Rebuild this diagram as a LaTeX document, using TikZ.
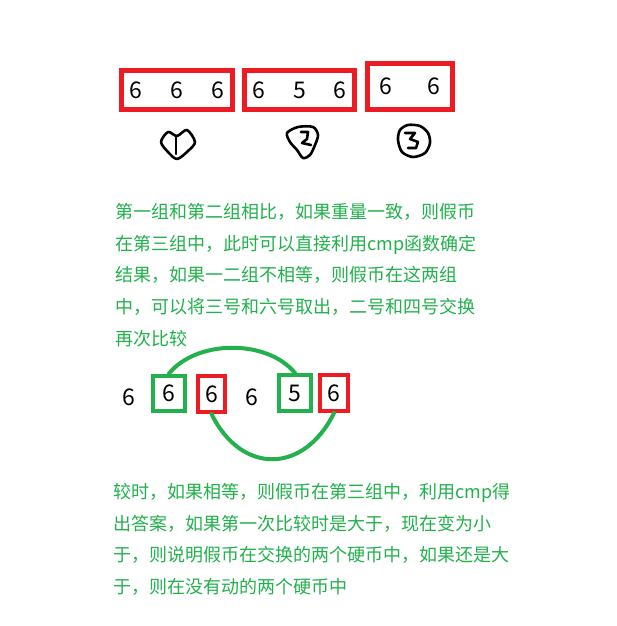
\documentclass[tikz,border=0pt]{standalone}
\usepackage{fontspec}
\setmainfont{Noto Sans CJK SC}
\definecolor{paintred}{HTML}{ED1C24}
\definecolor{paintgreen}{HTML}{22B14C}
\tikzset{
  bigbox/.style={draw=paintred, line width=5pt, inner sep=0pt, font=\fontsize{23}{26}\selectfont},
  redbox/.style={draw=paintred, line width=4pt, inner sep=0pt, minimum width=28pt, minimum height=36pt},
  greenbox/.style={draw=paintgreen, line width=4pt, inner sep=0pt, minimum width=32pt, minimum height=35pt},
  coin/.style={inner sep=0pt, font=\fontsize{23}{26}\selectfont},
  note/.style={anchor=north west, inner sep=0pt, align=left, text=paintgreen, font=\fontsize{18}{31.7}\selectfont},
  scribble/.style={line width=2.6pt, line join=round, line cap=round},
  swap/.style={draw=paintgreen, line width=4pt, line cap=round}
}
\begin{document}
\begin{tikzpicture}[x=1pt, y=-1pt]
  \useasboundingbox[fill=white] (0,0) rectangle (617,626);
  % the three groups
  \node[bigbox, minimum width=111pt, minimum height=39pt] (group1) at (177,90) {6\hspace{28pt}6\hspace{28pt}6};
  \node[bigbox, minimum width=110pt, minimum height=39pt] (group2) at (299.5,90) {6\hspace{28pt}5\hspace{28pt}6};
  \node[bigbox, minimum width=85pt, minimum height=46pt] (group3) at (410,86.5) {6\hspace{35pt}6\hspace{12pt}};
  % hand written numbers
  \draw[scribble] plot[smooth cycle] coordinates {(177,136) (168,132) (161,142) (168,152) (177,159) (188,151) (195,142) (187,130)};
  \draw[scribble] (176,136) -- (176,154);
  \draw[scribble] plot[smooth cycle] coordinates {(287,133) (298,127) (313,127) (318,135) (315,145) (310,155) (303,158) (297,150) (290,142)};
  \draw[scribble] (301,132) -- (308,132) -- (307,139) -- (302,143) -- (311,145);
  \draw[scribble] plot[smooth cycle] coordinates {(400,130) (408,125) (420,126) (428,133) (430,143) (425,153) (413,157) (402,152) (398,140)};
  \draw[scribble] (405,133) -- (415,133) -- (410,139) -- (418,142) -- (416,148) -- (408,148);
  % first note
  \node[note] (note1) at (115,203) {第一组和第二组相比，如果重量一致，则假币\\
    在第三组中，此时可以直接利用cmp函数确定\\
    结果，如果一二组不相等，则假币在这两组\\
    中，可以将三号和六号取出，二号和四号交换\\
    再次比较};
  % coins after the swap
  \node[coin] (c1) at (129,397) {6};
  \node[greenbox, coin] (c2) at (169,393) {6};
  \node[redbox, coin, minimum width=27pt] (c3) at (211.5,394) {6};
  \node[coin] (c4) at (252,397) {6};
  \node[greenbox, coin, minimum height=36pt] (c5) at (295,393) {5};
  \node[redbox, coin] (c6) at (334,393) {6};
  \draw[swap] (c2.north) .. controls +(28,-34) and +(-28,-34) .. (c5.north);
  \draw[swap] (c3.south) .. controls +(30,61) and +(-30,61) .. (c6.south);
  % second note
  \node[note] (note2) at (113,483) {较时，如果相等，则假币在第三组中，利用cmp得\\
    出答案，如果第一次比较时是大于，现在变为小\\
    于，则说明假币在交换的两个硬币中，如果还是大\\
    于，则在没有动的两个硬币中};
\end{tikzpicture}
\end{document}
